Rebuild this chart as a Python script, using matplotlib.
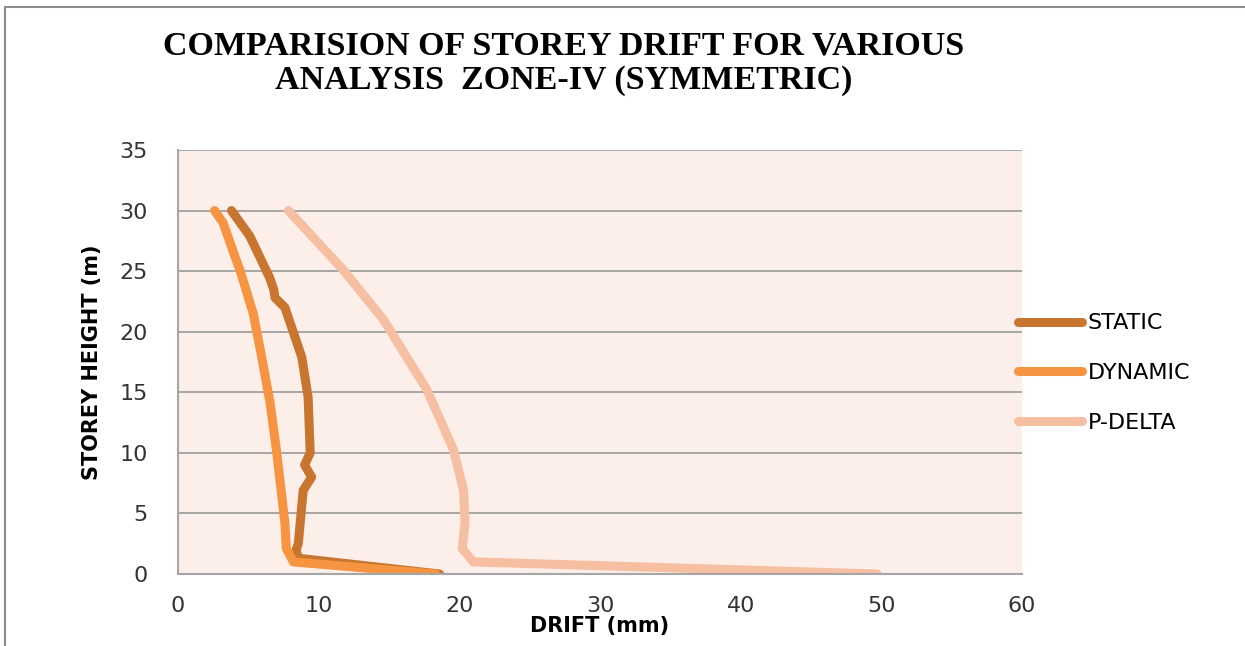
import matplotlib
matplotlib.use("Agg")
import matplotlib.pyplot as plt
from matplotlib.patches import Rectangle

# storey drift data (height m, drift mm)
static_h = [0, 1.3, 2.0, 2.5, 6.9, 8.0, 9.0, 10.0, 14.6, 17.9, 22.0, 22.8, 23.5, 24.5, 27.9, 30]
static_d = [18.6, 8.55, 8.4, 8.55, 8.9, 9.5, 9.0, 9.4, 9.25, 8.8, 7.6, 6.9, 6.8, 6.5, 5.1, 3.8]

dyn_h = [0, 1.0, 2.1, 4.2, 10.2, 14.1, 17.9, 21.5, 25.1, 26.2, 29.0, 30]
dyn_d = [18.3, 8.2, 7.7, 7.6, 7.0, 6.55, 5.95, 5.35, 4.4, 4.05, 3.2, 2.6]

pd_h = [0, 1.0, 2.1, 4.2, 6.9, 10.2, 15.2, 21.0, 25.1, 30]
pd_d = [49.7, 21.0, 20.2, 20.4, 20.3, 19.6, 17.7, 14.6, 11.75, 7.85]

series = [("STATIC", static_d, static_h, "#C8762F"),
          ("DYNAMIC", dyn_d, dyn_h, "#F79441"),
          ("P-DELTA", pd_d, pd_h, "#F6BFA2")]

fig = plt.figure(figsize=(12.45, 6.46), dpi=100)
fig.patches.append(Rectangle((0.004, -0.01), 1.0, 0.999, transform=fig.transFigure,
                             fill=False, edgecolor="#8c8c8c", lw=1.5))
ax = fig.add_axes([178/1245, 1-574/646, (1022-178)/1245, (574-150)/646])
ax.set_facecolor("#FCEEE9")

for name, d, h, c in series:
    ax.plot(d, h, color=c, lw=6.5, solid_capstyle="round", solid_joinstyle="round", label=name)

ax.set_xlim(0, 60)
ax.set_ylim(0, 35)
ax.set_xticks(range(0, 61, 10))
ax.set_yticks(range(0, 36, 5))
ax.yaxis.grid(True, color="#9a9a9a", lw=1.2)
ax.set_axisbelow(True)
for s in ["top", "right"]:
    ax.spines[s].set_visible(False)
for s in ["left", "bottom"]:
    ax.spines[s].set_color("#a6a6a6")
    ax.spines[s].set_linewidth(1.5)
ax.tick_params(length=0, labelsize=16, colors="#333333")
ax.tick_params(axis="y", pad=22)
ax.tick_params(axis="x", pad=16)

ax.set_xlabel("DRIFT (mm)", fontsize=15, fontweight="bold", labelpad=0)
ax.set_ylabel("STOREY HEIGHT (m)", fontsize=15, fontweight="bold", labelpad=12)

fig.text(0.453, 0.902, "COMPARISION OF STOREY DRIFT FOR VARIOUS\nANALYSIS  ZONE-IV (SYMMETRIC)",
         ha="center", va="center", fontsize=24.5, fontweight="bold",
         family="Liberation Serif", linespacing=1.15)

leg = ax.legend(loc="center left", bbox_to_anchor=(0.995, 0.474), frameon=False,
                fontsize=16, handlelength=2.9, labelspacing=1.33, handletextpad=0.25,
                borderpad=0, borderaxespad=0)
for line in leg.get_lines():
    line.set_linewidth(6.5)

plt.savefig("out.png", dpi=100)
